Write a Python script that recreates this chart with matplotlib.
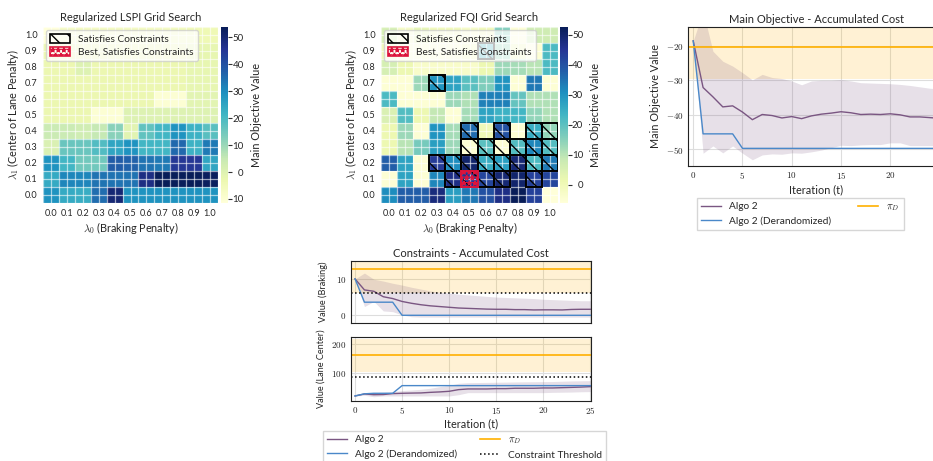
import matplotlib
matplotlib.use("Agg")
import matplotlib.pyplot as plt
import numpy as np
from matplotlib.patches import Patch, Rectangle
from matplotlib.ticker import FuncFormatter, FixedLocator

plt.rcParams['font.family'] = ['Lato', 'DejaVu Sans']
plt.rcParams['mathtext.fontset'] = 'cm'
plt.rcParams['text.color'] = '#262626'
plt.rcParams['axes.labelcolor'] = '#262626'
plt.rcParams['xtick.color'] = '#262626'
plt.rcParams['ytick.color'] = '#262626'
plt.rcParams['hatch.linewidth'] = 1.0

# grid search axes
lam0 = [0.0, 0.1, 0.2, 0.3, 0.4, 0.5, 0.6, 0.7, 0.8, 0.9, 1.0]
lam1 = [1.0, 0.9, 0.8, 0.7, 0.6, 0.5, 0.4, 0.3, 0.2, 0.1, 0.0]  # rows, top to bottom

lspi_values = [
    [11.5, 7, 6, 6, 6, 6, 6, 6, 5, 4, 4],
    [3, 3, 3, 3, 3, 3, 3, 3, 3, 2, 2],
    [3, 3, 0, 3, 3, 3, 3, 3, 3, 2, 2],
    [3, 3, 3, 3, 3, 3, 3, 3, 3, 2, 2],
    [3, 3, 3, 3, 3, 3, 3, 10, 10, 1, 1],
    [3, 3, 3, 10, 10, 0, 0, 0, 0, 0, 0],
    [-4, -4, -3, -5, -12, 1, -17, -21, -29, -22, -18],
    [-1, -16, -16, -19, -25, -29, -21, -21, -36, -22, -33],
    [-29, -21, -15, -15, -38, -37, -34, -33, -45, -45, -25],
    [-24, -31, -31, -34, -34, -34, -48, -53.9, -53.5, -53.9, -53],
    [-29, -24, -23, -35, -50, -29, -29, -29, -29, -29, -29],
]

fqi_values = [
    [-6, 2, -3, 0, 0, 2, 0, -16, 5, -7, -7],
    [0, 4, 4, 3, 3, 0, -23, -14, 0, 5, -22],
    [-6, -1, 3, 3, 3, 3, -1, -13, -12, -10, -22],
    [5, 5, -13, -30, -27, -20, -16, -30, 5, -34, 5],
    [-22, 5, 5, 5, -13, -11, -33, -33, -19, -11, -11],
    [-5, -21, -1, -9, 5, -12, -27, -24, -23, -14, -11],
    [-1, -13, 5, -30, -12, -36, 0, -40, 5, -25, -14],
    [-1, -10, -17, -28, -13, 5, -20, 5, -21, -32, -21],
    [-38, -27, 5, -44, -31, -50, -25, -28, -49, -22, -34],
    [5, -27, 5, -32, -47, -45, -42, -49, -50, -43, -42],
    [-31, -38, -38, -48, -28, -34, -40, -47, -52.5, -43, 6.1],
]

# (lambda_1, lambda_0) cells that satisfy the constraints
fqi_satisfies = [
    (0.9, 0.6), (0.7, 0.3),
    (0.4, 0.5), (0.4, 0.7), (0.4, 0.9), (0.4, 1.0),
    (0.3, 0.5), (0.3, 0.6), (0.3, 0.7), (0.3, 0.8), (0.3, 0.9), (0.3, 1.0),
    (0.2, 0.3), (0.2, 0.4), (0.2, 0.5), (0.2, 0.6), (0.2, 0.7), (0.2, 0.8), (0.2, 0.9), (0.2, 1.0),
    (0.1, 0.4), (0.1, 0.5), (0.1, 0.6), (0.1, 0.7), (0.1, 0.9),
]
fqi_best = (0.1, 0.5)

# accumulated cost curves
iters = list(range(26))
main_algo2 = [-18.6, -32.1, -34.8, -37.7, -37.4, -39.2, -41.4, -39.9, -40.2, -40.9, -40.5, -41.1, -40.3,
              -39.8, -39.5, -39.1, -39.4, -39.9, -39.8, -39.9, -39.7, -40.0, -40.6, -40.6, -40.8, -41.0]
main_algo2_hi = [-18.6, -10.0, -21.6, -24.5, -25.9, -27.8, -29.9, -28.3, -29.2, -29.5, -30.2, -31.3, -30.2,
                 -30.0, -30.0, -29.8, -30.2, -30.7, -30.8, -30.9, -31.0, -31.2, -31.5, -31.9, -32.3, -32.5]
main_algo2_lo = [-18.6, -51.1, -49.0, -51.0, -49.0, -51.1, -53.0, -51.6, -51.3, -51.4, -51.0, -51.1, -50.7,
                 -50.2, -49.5, -48.8, -48.9, -48.7, -48.6, -48.6, -48.1, -48.1, -48.9, -48.9, -48.9, -48.9]
main_derand = [-18.6, -45.5, -45.5, -45.5, -45.5] + [-49.7] * 21
main_pi_d = -20.3
main_pi_d_std = 9.3

brake_algo2 = [10, 6.97, 6.6, 5.1, 4.6, 3.8, 3.3, 2.9, 2.6, 2.4, 2.2, 2.0, 1.9,
               1.8, 1.7, 1.65, 1.65, 1.56, 1.56, 1.47, 1.5, 1.5, 1.47, 1.6, 1.65, 1.65]
brake_algo2_hi = [10, 11.6, 9.9, 9.4, 8.8, 8.3, 7.7, 7.2, 6.7, 6.3, 6.1, 5.8, 5.6,
                  5.4, 5.2, 5.0, 4.9, 4.8, 4.7, 4.6, 4.4, 4.3, 4.2, 4.1, 4.0, 4.0]
brake_algo2_lo = [10, 2.4, 3.8, 1.2, 1.0, 0.1, -0.4, -0.5, -0.5, -0.5, -0.5, -0.5, -0.5,
                  -0.5, -0.5, -0.5, -0.5, -0.5, -0.5, -0.5, -0.5, -0.5, -0.5, -0.5, -0.5, -0.5]
brake_derand = [10, 3.6, 3.6, 3.6, 3.6] + [0.0] * 21
brake_pi_d = 12.8
brake_pi_d_std = 6.8
brake_threshold = 6.0

lane_algo2 = [22.7, 29.5, 27, 27.5, 30.7, 31.8, 32.5, 33, 35, 36.5, 38.6, 44.3, 46.6,
              46.6, 46.6, 47.7, 47.7, 49, 49, 49, 50, 50, 51, 52, 53, 54.5]
lane_algo2_hi = [22.7, 34, 34, 35, 37.5, 41, 43, 45.5, 49, 54.5, 59, 66, 68,
                 68.5, 69, 69.5, 70, 70.5, 71, 71.3, 71.6, 72, 73, 74, 74.5, 75]
lane_algo2_lo = [22.7, 25, 20, 22.7, 22.7, 22.7, 22.7, 22.7, 22.7, 22.7, 22.7, 27, 34,
                 34, 34, 34, 34, 34, 34, 34, 34, 35, 35.5, 36, 37, 37.5]
lane_derand = [22.7, 30, 31.8, 31.8, 31.8] + [58.0] * 21
lane_pi_d = 161
lane_pi_d_std = 56
lane_threshold = 87.5

PURPLE = '#7a5682'
BLUE = '#4a88c9'
ORANGE = '#ffb000'
BEST = '#dc143c'
OK_HATCH = '\\\\'
BEST_HATCH = '***'

W, H = 933, 461
fig = plt.figure(figsize=(W / 100, H / 100), dpi=100)


def px_axes(l, t, r, b):
    return fig.add_axes([l / W, 1 - b / H, (r - l) / W, (b - t) / H])


math_fmt = FuncFormatter(lambda v, p: f'${v:g}$')


def grid_search(ax, cax, values, title, vmin, vmax, cticks, satisfies=(), best=None):
    vals = np.array(values, dtype=float)[::-1]
    edges = np.arange(12) - 0.5
    mesh = ax.pcolormesh(edges, edges, vals, cmap='YlGnBu_r', vmin=vmin, vmax=vmax)
    ax.set_xlim(-0.5, 10.5)
    ax.set_ylim(-0.5, 10.5)
    ax.set_xticks(range(11), [f'{v:.1f}' for v in lam0])
    ax.set_yticks(range(11), [f'{v:.1f}' for v in lam1[::-1]])
    ax.set_xticks(edges, minor=True)
    ax.set_yticks(edges, minor=True)
    ax.tick_params(which='both', length=0, labelsize=6.6, pad=4)
    ax.grid(which='both', color='white', lw=0.9, alpha=0.6)
    ax.set_axisbelow(False)
    for s in ax.spines.values():
        s.set_visible(False)
    ax.set_title(title, fontsize=8, pad=4)
    ax.set_xlabel(r'$\lambda_0$ (Braking Penalty)', fontsize=7.8, labelpad=2)
    ax.set_ylabel(r'$\lambda_1$ (Center of Lane Penalty)', fontsize=7.8, labelpad=3)

    for l1, l0 in satisfies:
        x = lam0.index(l0)
        y = 10 - lam1.index(l1)
        ax.add_patch(Rectangle((x - 0.5, y - 0.5), 1, 1, facecolor='none', edgecolor='black',
                               lw=1.4, hatch=OK_HATCH, zorder=3))
    if best is not None:
        x = lam0.index(best[1])
        y = 10 - lam1.index(best[0])
        ax.add_patch(Rectangle((x - 0.5, y - 0.5), 1, 1, facecolor='none', edgecolor=BEST,
                               lw=1.4, hatch=BEST_HATCH, zorder=4))

    handles = [Patch(facecolor='none', edgecolor='black', hatch=OK_HATCH, lw=1.2, label='Satisfies Constraints'),
               Patch(facecolor='none', edgecolor=BEST, hatch=BEST_HATCH, lw=1.2,
                     label='Best, Satisfies Constraints')]
    ax.legend(handles=handles, loc='upper left', fontsize=7.3, handlelength=2.0, handleheight=0.9,
              borderaxespad=0.3, framealpha=0.75, labelspacing=0.35, handletextpad=0.8,
              borderpad=0.4)

    cb = fig.colorbar(mesh, cax=cax)
    cb.outline.set_visible(False)
    cax.invert_yaxis()
    cax.yaxis.set_major_locator(FixedLocator(cticks))
    cax.yaxis.set_major_formatter(FuncFormatter(lambda v, p: f'{abs(v):g}'))
    cax.tick_params(length=2.6, width=0.8, labelsize=7, pad=8.5, color='#333333')
    plt.setp(cax.get_yticklabels(), ha='right')
    cb.set_label('Main Objective Value', fontsize=7.8, labelpad=5)


def line_style(ax):
    ax.grid(True, color='#dddddd', lw=0.8)
    ax.set_axisbelow(True)
    for s in ax.spines.values():
        s.set_color('#222222')
        s.set_linewidth(0.8)
    ax.tick_params(length=0, labelsize=6.5, pad=3)
    ax.xaxis.set_major_formatter(math_fmt)
    ax.yaxis.set_major_formatter(math_fmt)


# heatmaps
ax1 = px_axes(43, 27, 218, 203)
cax1 = px_axes(221, 27, 228.3, 203)
grid_search(ax1, cax1, lspi_values, 'Regularized LSPI Grid Search', -53.9, 11.5,
            [-50, -40, -30, -20, -10, 0, 10])

ax2 = px_axes(381, 27, 558, 203)
cax2 = px_axes(560.3, 27, 567.7, 203)
grid_search(ax2, cax2, fqi_values, 'Regularized FQI Grid Search', -52.5, 6.1,
            [-50, -40, -30, -20, -10, 0], fqi_satisfies, fqi_best)

# main objective
ax3 = px_axes(688.3, 26.7, 944.5, 166)
line_style(ax3)
ax3.fill_between([-0.5, 25.5], main_pi_d - main_pi_d_std, main_pi_d + main_pi_d_std,
                 color=ORANGE, alpha=0.17, lw=0)
ax3.fill_between(iters, main_algo2_lo, main_algo2_hi, color=PURPLE, alpha=0.18, lw=0)
ax3.plot(iters, main_algo2, color=PURPLE, lw=1.0, label='Algo 2')
ax3.plot(iters, main_derand, color=BLUE, lw=1.0, label='Algo 2 (Derandomized)')
ax3.axhline(main_pi_d, color=ORANGE, lw=1.2, label=r'$\pi_D$')
ax3.set_xlim(-0.5, 25.5)
ax3.set_ylim(-54.8, -14.5)
ax3.set_xticks([0, 5, 10, 15, 20])
ax3.set_yticks([-50, -40, -30, -20])
ax3.set_title('Main Objective - Accumulated Cost', fontsize=8, pad=3)
ax3.set_xlabel('Iteration (t)', fontsize=7.8, labelpad=2)
ax3.set_ylabel('Main Objective Value', fontsize=7.8, labelpad=4)
ax3.legend(loc='upper left', bbox_to_anchor=(697 / W, 1 - 198 / H), bbox_transform=fig.transFigure,
           ncol=2, fontsize=7.3, frameon=True, fancybox=False, edgecolor='#cccccc',
           handlelength=2.0, columnspacing=2.6, borderaxespad=0)

# constraints
ax4 = px_axes(350.7, 260.7, 590.7, 323.3)
ax5 = px_axes(350.7, 337.3, 590.7, 400.7)
for ax, alg, hi, lo, der, pid, pstd, thr, lim, ticks in [
        (ax4, brake_algo2, brake_algo2_hi, brake_algo2_lo, brake_derand, brake_pi_d, brake_pi_d_std,
         brake_threshold, (-2.2, 15), [0, 10]),
        (ax5, lane_algo2, lane_algo2_hi, lane_algo2_lo, lane_derand, lane_pi_d, lane_pi_d_std,
         lane_threshold, (6.5, 223), [100, 200])]:
    line_style(ax)
    ax.fill_between([-0.5, 25.5], pid - pstd, pid + pstd, color=ORANGE, alpha=0.17, lw=0)
    ax.fill_between(iters, lo, hi, color=PURPLE, alpha=0.18, lw=0)
    ax.plot(iters, alg, color=PURPLE, lw=1.0, label='Algo 2')
    ax.plot(iters, der, color=BLUE, lw=1.0, label='Algo 2 (Derandomized)')
    ax.axhline(pid, color=ORANGE, lw=1.2, label=r'$\pi_D$')
    ax.axhline(thr, color='black', lw=1.1, ls=':', label='Constraint Threshold')
    ax.set_xlim(-0.46, 25.04)
    ax.set_ylim(*lim)
    ax.set_xticks([0, 5, 10, 15, 20, 25])
    ax.set_yticks(ticks)
ax4.tick_params(labelbottom=False)
ax4.set_title('Constraints - Accumulated Cost', fontsize=8, pad=3)
ax4.set_ylabel('Value (Braking)', fontsize=6.6, labelpad=6)
ax5.set_ylabel('Value (Lane Center)', fontsize=6.6, labelpad=4)
ax5.set_xlabel('Iteration (t)', fontsize=7.8, labelpad=2)
h, l = ax5.get_legend_handles_labels()
ax5.legend(h, l, loc='upper left', bbox_to_anchor=(323 / W, 1 - 431 / H), bbox_transform=fig.transFigure,
           ncol=2, fontsize=7.3, frameon=True, fancybox=False, edgecolor='#cccccc',
           handlelength=2.0, columnspacing=2.2, borderaxespad=0)

fig.savefig('out.png', dpi=100)
